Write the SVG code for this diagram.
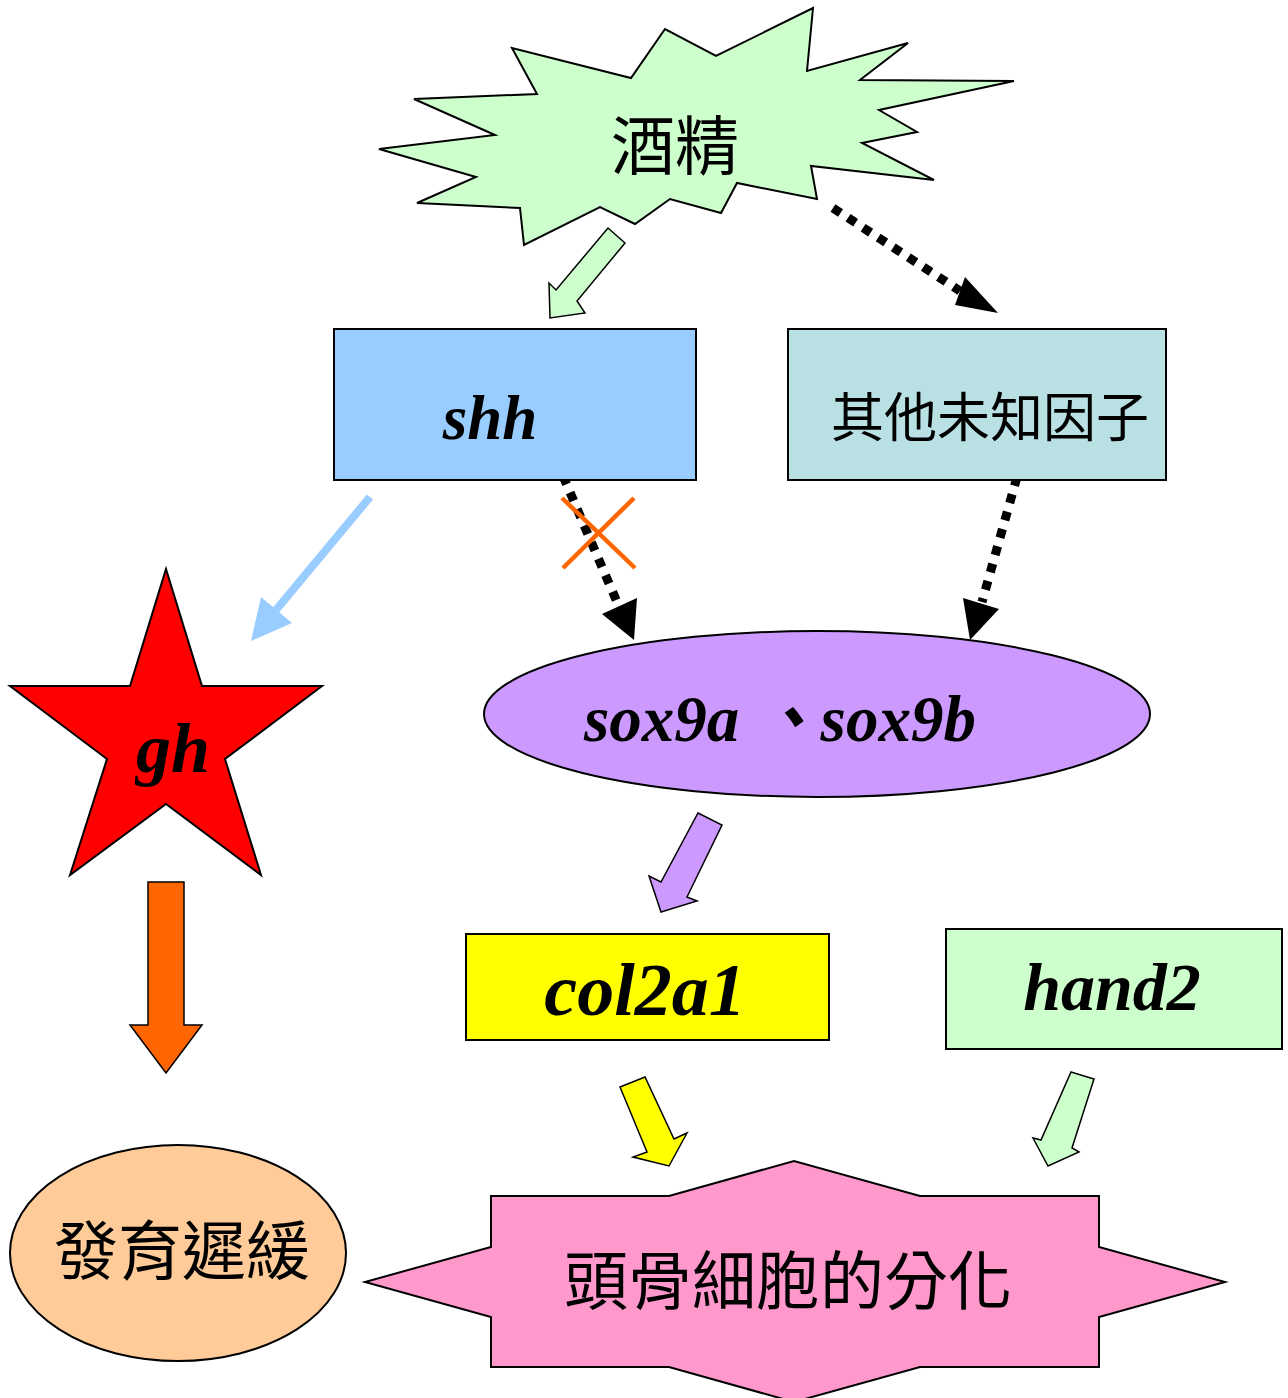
<svg xmlns="http://www.w3.org/2000/svg" width="1288" height="1398" viewBox="0 0 1288 1398">
<style>
.shape{stroke:#000;stroke-width:2;stroke-linejoin:miter}
.cjk{font-family:"Noto Sans CJK TC","Noto Sans CJK SC",sans-serif;fill:#000;text-anchor:middle}
.gene{font-family:"Liberation Serif","Noto Sans CJK TC",serif;font-weight:bold;font-style:italic;fill:#000;text-anchor:middle}
.dot{stroke:#000;stroke-width:9;stroke-dasharray:9 9;fill:none}
.head{fill:#000;stroke:none}
.block{stroke:#000;stroke-width:1.5;stroke-linejoin:miter}
</style>
<rect width="1288" height="1398" fill="#fff"/>
<g id="connectors">
  <polygon class="block" fill="#CCFFCC" points="608,228 625,243 577,301 585,313 550,318 549,283 556,290"/>
  <line class="dot" x1="833" y1="208" x2="960" y2="291"/>
  <polygon class="head" points="965,277 955,305 998,313"/>
  <line x1="370" y1="497" x2="276" y2="610" stroke="#99CCFF" stroke-width="8"/>
  <polygon fill="#99CCFF" points="251,641 261,597 292,623"/>
  <line class="dot" x1="563" y1="476" x2="617" y2="602"/>
  <polygon class="head" points="602,614 637,598 634,640"/>
  <g id="block-x" stroke="#FF6600" stroke-width="4.5">
    <line x1="562" y1="498" x2="635" y2="568"/>
    <line x1="634" y1="498" x2="563" y2="568"/>
  </g>
  <line class="dot" x1="1017" y1="477" x2="982" y2="602"/>
  <polygon class="head" points="963,598 999,609 970,640"/>
  <polygon class="block" fill="#FF6600" points="148,882 184,882 184,1025 202,1025 166,1073 130,1025 148,1025"/>
  <polygon class="block" fill="#CC99FF" points="698,813 722,825 687,897 697,901 661,912 649,876 661,882"/>
  <polygon class="block" fill="#FFFF00" points="620,1087 645,1077 674,1139 687,1133 669,1166 633,1157 647,1152"/>
  <polygon class="block" fill="#CCFFCC" points="1071,1072 1094,1079 1072,1148 1079,1152 1048,1166 1033,1138 1041,1140"/>
</g>
<g id="alcohol">
  <polygon class="shape" fill="#CCFFCC" points="813,8 807,71 908,43 860,80 1014,81 879,110 917,132 862,143 934,180 811,166 817,199 737,183 721,213 670,199 635,224 600,207 524,245 520,208 417,203 476,177 379,149 495,135 414,99 537,94 512,48 631,78 665,29 716,56"/>
  <text class="cjk" x="675" y="169" font-size="64">酒精</text>
</g>
<g id="shh">
  <rect class="shape" x="334" y="329" width="362" height="151" fill="#99CCFF"/>
  <text class="gene" x="490" y="439" font-size="63">shh</text>
</g>
<g id="unknown">
  <rect class="shape" x="788" y="329" width="378" height="151" fill="#B9E0E3"/>
  <text class="cjk" x="990" y="437" font-size="53">其他未知因子</text>
</g>
<g id="gh">
  <polygon class="shape" fill="#FF0000" points="166,569 202,686 322,686 225,759 261,875 166,804 70,875 107,759 10,686 130,686"/>
  <text class="gene" x="173" y="772" font-size="70">gh</text>
</g>
<g id="sox9">
  <ellipse class="shape" cx="817" cy="714" rx="333" ry="83" fill="#CC99FF"/>
  <text class="gene" x="780" y="741" font-size="65">sox9a 、sox9b</text>
</g>
<g id="col2a1">
  <rect class="shape" x="466" y="934" width="363" height="106" fill="#FFFF00"/>
  <text class="gene" x="645" y="1015" font-size="74">col2a1</text>
</g>
<g id="hand2">
  <rect class="shape" x="946" y="929" width="336" height="120" fill="#CCFFCC"/>
  <text class="gene" x="1112" y="1010" font-size="68">hand2</text>
</g>
<g id="delay">
  <ellipse class="shape" cx="178" cy="1253" rx="168" ry="108" fill="#FFCC99"/>
  <text class="cjk" x="182" y="1274" font-size="64">發育遲緩</text>
</g>
<g id="differentiation">
  <polygon class="shape" fill="#FF99CC" points="491,1196 669,1196 794,1161 920,1196 1099,1196 1099,1247 1225,1282 1099,1317 1099,1367 920,1367 794,1402 669,1367 491,1367 491,1317 365,1282 491,1247"/>
  <text class="cjk" x="788" y="1304" font-size="64">頭骨細胞的分化</text>
</g>
</svg>
